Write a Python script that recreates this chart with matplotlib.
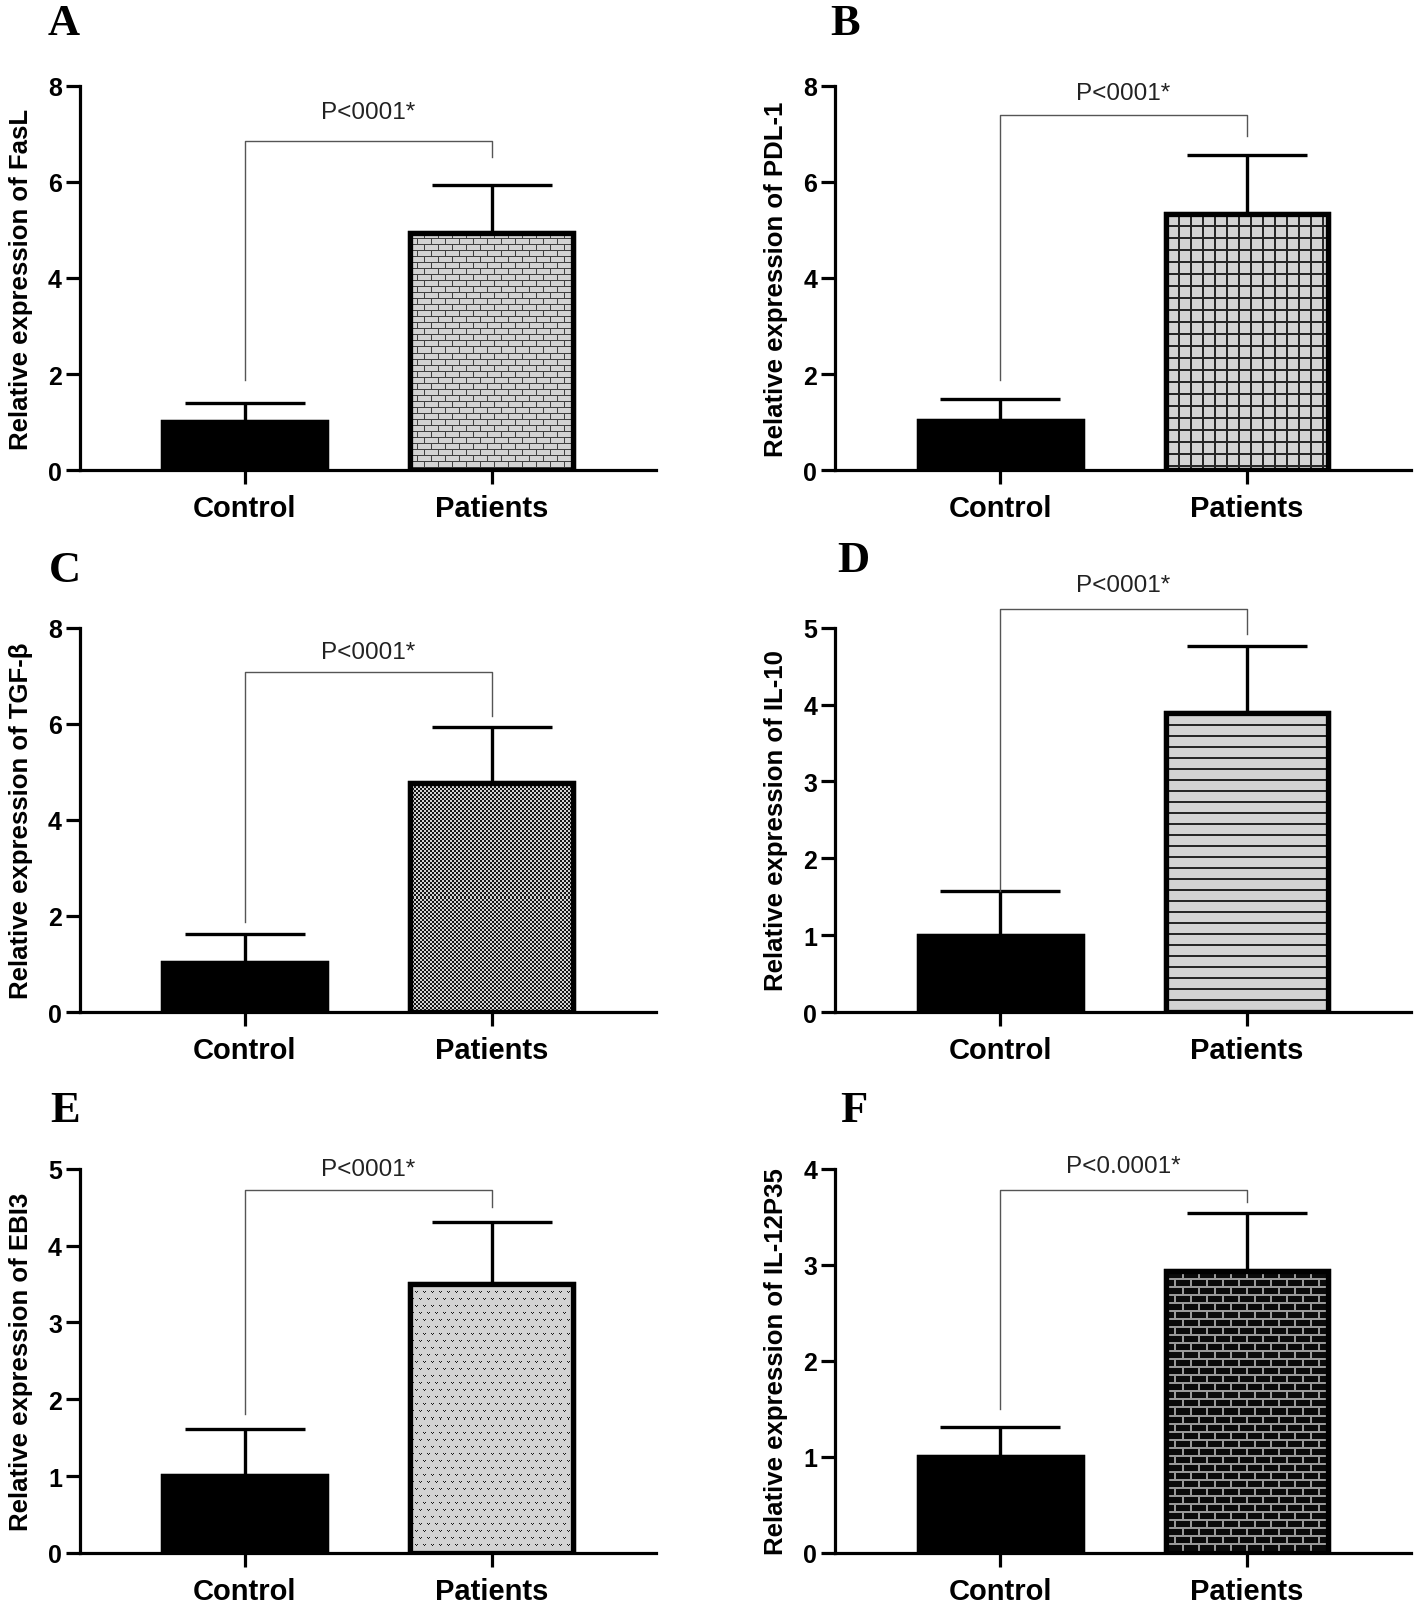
import numpy as np
import matplotlib
matplotlib.use("Agg")
import matplotlib.pyplot as plt

plt.rcParams['font.family'] = ['Liberation Sans', 'DejaVu Sans']

# data
letters = ['A', 'B', 'C', 'D', 'E', 'F']
genes = ['FasL', 'PDL-1', 'TGF-β', 'IL-10', 'EBI3', 'IL-12P35']
groups = ['Control', 'Patients']
control_mean = [1.0, 1.02, 1.03, 0.99, 1.0, 1.0]
control_err = [0.40, 0.46, 0.60, 0.59, 0.61, 0.31]
patient_mean = [4.94, 5.34, 4.77, 3.89, 3.50, 2.94]
patient_err = [0.99, 1.22, 1.16, 0.87, 0.80, 0.60]
ymax = [8, 8, 8, 5, 5, 4]
ystep = [2, 2, 2, 1, 1, 1]
p_text = ['P<0001*'] * 5 + ['P<0.0001*']
# significance bracket: left leg bottom, top, right leg bottom, label height
br_left = [1.87, 1.87, 1.88, 1.58, 1.81, 1.50]
br_top = [6.85, 7.40, 7.08, 5.25, 4.72, 3.78]
br_right = [6.52, 6.95, 6.16, 4.92, 4.50, 3.65]
p_y = [7.45, 7.85, 7.50, 5.55, 5.00, 4.03]
patterns = ['brick_light', 'grid', 'check', 'hlines', 'dots', 'brick_dark']


def texture(kind, h, w):
    yy, xx = np.mgrid[0:h, 0:w]
    light, dark = 0.83, 0.08
    if kind == 'brick_light':
        row = yy // 6
        m = (yy % 6 == 0) | (((xx + (row % 2) * 7) % 14) == 0)
        return np.where(m, 0.25, light)
    if kind == 'grid':
        m = ((yy % 12) < 2) | ((xx % 12) < 2)
        return np.where(m, 0.15, light)
    if kind == 'check':
        m = ((yy // 2 + xx // 2) % 2) == 0
        return np.where(m, dark, light)
    if kind == 'hlines':
        m = (yy % 11) < 2
        return np.where(m, 0.15, light)
    if kind == 'dots':
        row = yy // 7
        lx = (xx + (row % 2) * 4) % 8
        ly = yy % 7
        m = ((ly == 1) & ((lx == 1) | (lx == 3))) | ((ly == 2) & (lx == 2))
        return np.where(m, 0.1, light)
    if kind == 'brick_dark':
        row = yy // 8
        m = ((yy % 8) < 2) | ((((xx + (row % 2) * 8) % 16)) < 2)
        return np.where(m, 0.6, 0.04)
    return np.full((h, w), light)


fig = plt.figure(figsize=(14.18, 16.08), dpi=100)

lefts = [0.0564, 0.589]
bottoms = [0.707, 0.370, 0.0336]
letter_pos = [(0.045, 0.985), (0.596, 0.985), (0.046, 0.645),
              (0.602, 0.651), (0.046, 0.309), (0.602, 0.309)]

for i in range(6):
    ax = fig.add_axes([lefts[i % 2], bottoms[i // 2], 0.406, 0.239])
    x = np.arange(2)
    means = [control_mean[i], patient_mean[i]]
    errs = [control_err[i], patient_err[i]]
    ax.set_xlim(-0.668, 1.664)
    ax.set_ylim(0, ymax[i])

    ax.errorbar(x, means, yerr=[[0, 0], errs], fmt='none', ecolor='black',
                elinewidth=2.4, capsize=43, capthick=2.4, zorder=1)
    bars = ax.bar(x, means, width=0.66, color=['black', '#d4d4d4'],
                  edgecolor='black', linewidth=3.8, zorder=2)

    # patterned fill for patients bar
    pb = bars[1]
    ext = pb.get_window_extent()
    h, w = int(round(ext.height)), int(round(ext.width))
    tex = texture(patterns[i], max(h, 1), max(w, 1))
    x0 = pb.get_x()
    img = ax.imshow(tex, cmap='gray', vmin=0, vmax=1, aspect='auto',
                    interpolation='nearest', zorder=2.5,
                    extent=(x0, x0 + pb.get_width(), 0, pb.get_height()))
    img.set_clip_path(pb)
    ax.bar(x, means, width=0.66, fill=False, edgecolor='black',
           linewidth=3.8, zorder=3)
    ax.set_xlim(-0.668, 1.664)
    ax.set_ylim(0, ymax[i])

    # significance bracket
    ax.plot([0, 0, 1, 1], [br_left[i], br_top[i], br_top[i], br_right[i]],
            color='#555555', lw=1.0, clip_on=False, zorder=1)
    ax.text(0.5, p_y[i], p_text[i], ha='center', va='center', fontsize=17.5,
            color='#222222')

    ax.spines['top'].set_visible(False)
    ax.spines['right'].set_visible(False)
    ax.spines['left'].set_linewidth(2.3)
    ax.spines['bottom'].set_linewidth(2.3)
    ax.set_yticks(np.arange(0, ymax[i] + 0.1, ystep[i]))
    ax.set_xticks(x)
    ax.set_xticklabels(groups, fontsize=21, fontweight='bold')
    ax.tick_params(axis='y', labelsize=18, width=2.3, length=10, pad=3)
    ax.tick_params(axis='x', width=2.3, length=10, pad=7)
    for lab in ax.get_yticklabels():
        lab.set_fontweight('bold')
    ax.set_ylabel('Relative expression of ' + genes[i], fontsize=18.5,
                  fontweight='bold', labelpad=11)

    fig.text(letter_pos[i][0], letter_pos[i][1], letters[i], ha='center',
             va='center', fontsize=32, fontweight='bold',
             family='Liberation Serif')

fig.savefig('out.png', dpi=100)
